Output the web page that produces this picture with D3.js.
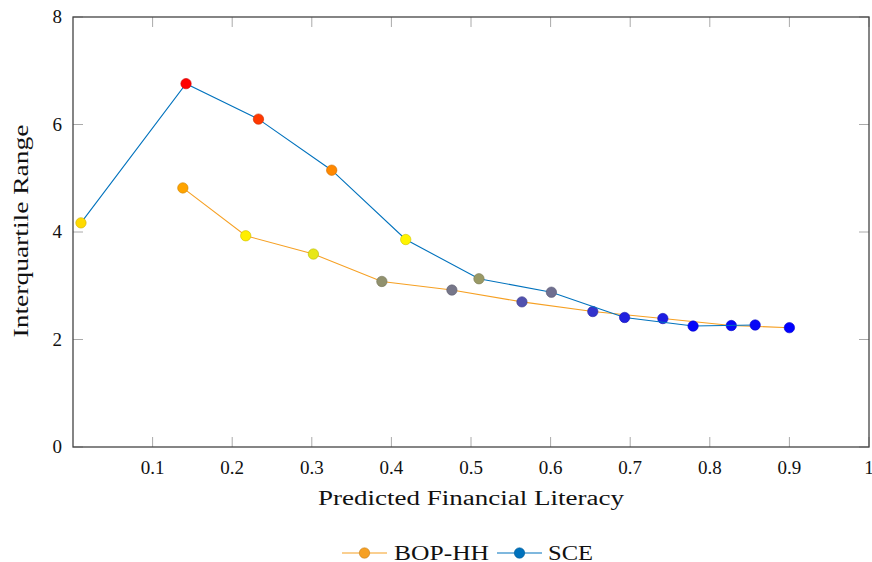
<!DOCTYPE html>
<html lang="en">
  <head>
    <meta charset="UTF-8" />
    <title>Interquartile Range by Predicted Financial Literacy</title>
    <style>
      body { margin: 0; background: #fff; }
      text { font-family: "Liberation Serif", "DejaVu Serif", serif; fill: #111; }
    </style>
  </head>
  <body>
    <div id="chart"></div>
    <script src="https://cdn.jsdelivr.net/npm/d3@7"></script>
    <script>
// data
var sceX = [0.010, 0.142, 0.233, 0.325, 0.418, 0.510, 0.601, 0.693, 0.779, 0.857];
var sceY = [4.17, 6.76, 6.10, 5.15, 3.86, 3.13, 2.88, 2.41, 2.25, 2.27];
var bopX = [0.138, 0.217, 0.302, 0.388, 0.476, 0.564, 0.653, 0.741, 0.827, 0.900];
var bopY = [4.82, 3.93, 3.59, 3.08, 2.92, 2.70, 2.52, 2.39, 2.26, 2.22];
var xTicks = [0.1, 0.2, 0.3, 0.4, 0.5, 0.6, 0.7, 0.8, 0.9, 1];
var yTicks = [0, 2, 4, 6, 8];
var seriesNames = ["BOP-HH", "SCE"];

(function() {
var W = 872, H = 562;
var pl = 73, pr = 869, pt = 17, pb = 447;

var svg = d3.select("#chart").append("svg")
    .attr("width", W)
    .attr("height", H);

var xScale = d3.scaleLinear().domain([0, 1]).range([pl, pr]);
var yScale = d3.scaleLinear().domain([0, 8]).range([pb, pt]);

// pgfplots "hot" colormap: blue, yellow, orange, red
var metaMin = d3.min(sceY.concat(bopY)), metaMax = d3.max(sceY.concat(bopY));
var hot = d3.scaleLinear()
    .domain([0, 1/3, 2/3, 1])
    .range(["rgb(0,0,255)", "rgb(255,255,0)", "rgb(255,128,0)", "rgb(255,0,0)"])
    .interpolate(d3.interpolateRgb);
function mapped(v) { return hot((v - metaMin) / (metaMax - metaMin)); }

// ticks, inside, mirrored
var tickLen = 10;
var grid = svg.append("g").attr("stroke", "#aaa").attr("stroke-width", 1);
xTicks.forEach(function(t) {
  grid.append("line").attr("x1", xScale(t)).attr("x2", xScale(t)).attr("y1", pb).attr("y2", pb - tickLen);
  grid.append("line").attr("x1", xScale(t)).attr("x2", xScale(t)).attr("y1", pt).attr("y2", pt + tickLen);
});
yTicks.forEach(function(t) {
  grid.append("line").attr("x1", pl).attr("x2", pl + tickLen).attr("y1", yScale(t)).attr("y2", yScale(t));
  grid.append("line").attr("x1", pr).attr("x2", pr - tickLen).attr("y1", yScale(t)).attr("y2", yScale(t));
});

// frame
svg.append("rect")
    .attr("x", pl).attr("y", pt)
    .attr("width", pr - pl).attr("height", pb - pt)
    .attr("fill", "none")
    .attr("stroke", "#444")
    .attr("stroke-width", 1.3);

// tick labels
svg.selectAll("text.xt").data(xTicks).enter().append("text")
    .attr("class", "xt")
    .attr("x", function(d) { return xScale(d); })
    .attr("y", 474)
    .attr("text-anchor", "middle")
    .style("font-size", "19px")
    .text(function(d) { return d3.format("")(d); });

svg.selectAll("text.yt").data(yTicks).enter().append("text")
    .attr("class", "yt")
    .attr("x", 62)
    .attr("y", function(d) { return yScale(d) + 6; })
    .attr("text-anchor", "end")
    .style("font-size", "19px")
    .text(function(d) { return d; });

// axis titles
svg.append("text")
    .attr("x", 471).attr("y", 505)
    .attr("text-anchor", "middle")
    .attr("textLength", 306)
    .attr("lengthAdjust", "spacingAndGlyphs")
    .style("font-size", "20px")
    .text("Predicted Financial Literacy");

svg.append("text")
    .attr("transform", "translate(28,231) rotate(-90)")
    .attr("text-anchor", "middle")
    .attr("textLength", 213)
    .attr("lengthAdjust", "spacingAndGlyphs")
    .style("font-size", "20px")
    .text("Interquartile Range");

var line = d3.line()
    .x(function(d) { return xScale(d[0]); })
    .y(function(d) { return yScale(d[1]); });

var orange = "rgb(246,160,35)", blue = "rgb(0,114,189)";
var bop = bopX.map(function(x, i) { return [x, bopY[i]]; });
var sce = sceX.map(function(x, i) { return [x, sceY[i]]; });

function drawSeries(data, col) {
  svg.append("path")
      .datum(data)
      .attr("d", line)
      .attr("fill", "none")
      .attr("stroke", col)
      .attr("stroke-width", 1.1);
}
function drawMarks(data) {
  svg.append("g").selectAll("circle").data(data).enter().append("circle")
      .attr("cx", function(d) { return xScale(d[0]); })
      .attr("cy", function(d) { return yScale(d[1]); })
      .attr("r", 5.2)
      .attr("fill", function(d) { return mapped(d[1]); })
      .attr("stroke", function(d) { return d3.interpolateRgb(mapped(d[1]), "black")(0.2); })
      .attr("stroke-width", 0.6);
}
drawSeries(bop, orange);
drawMarks(bop);
drawSeries(sce, blue);
drawMarks(sce);

// legend
var legend = [
  { name: seriesNames[0], col: orange, x0: 342, tx: 394, w: 95 },
  { name: seriesNames[1], col: blue, x0: 497, tx: 548, w: 45 }
];
var ly = 553;
legend.forEach(function(l) {
  svg.append("line")
      .attr("x1", l.x0).attr("x2", l.x0 + 45)
      .attr("y1", ly).attr("y2", ly)
      .attr("stroke", l.col).attr("stroke-width", 1.1);
  svg.append("circle")
      .attr("cx", l.x0 + 22.5).attr("cy", ly).attr("r", 5.2)
      .attr("fill", l.col)
      .attr("stroke", d3.interpolateRgb(l.col, "black")(0.2))
      .attr("stroke-width", 0.6);
  svg.append("text")
      .attr("x", l.tx).attr("y", ly + 7)
      .attr("textLength", l.w)
      .attr("lengthAdjust", "spacingAndGlyphs")
      .style("font-size", "20px")
      .text(l.name);
});
})();
    </script>
  </body>
</html>
